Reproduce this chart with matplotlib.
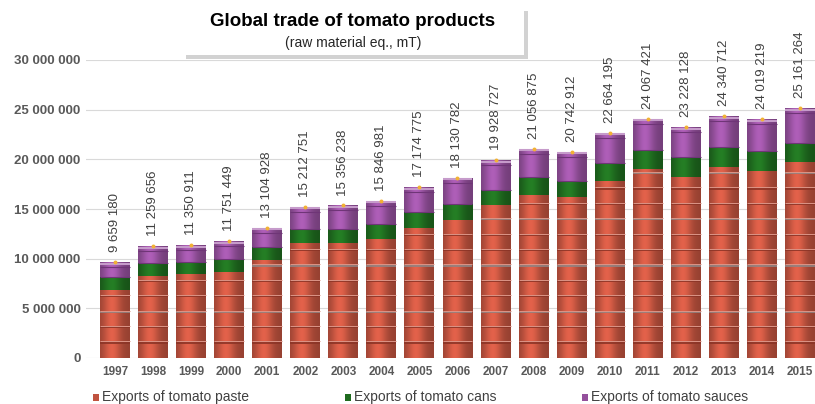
import numpy as np
import matplotlib
matplotlib.use('Agg')
from matplotlib import pyplot as plt
from matplotlib.patches import Rectangle

plt.rcParams['font.family'] = ['Liberation Sans', 'DejaVu Sans']

# data (tonnes, raw material eq.)
years = ['1997', '1998', '1999', '2000', '2001', '2002', '2003', '2004', '2005', '2006',
         '2007', '2008', '2009', '2010', '2011', '2012', '2013', '2014', '2015']
totals = [9659180, 11259656, 11350911, 11751449, 13104928, 15212751, 15356238, 15846981,
          17174775, 18130782, 19928727, 21056875, 20742912, 22664195, 24067421, 23228128,
          24340712, 24019219, 25161264]
paste = [6.85e6, 8.26e6, 8.46e6, 8.63e6, 9.87e6, 11.61e6, 11.61e6, 11.98e6, 13.12e6, 13.9e6,
         15.37e6, 16.41e6, 16.25e6, 17.86e6, 19.0e6, 18.19e6, 19.2e6, 18.83e6, 19.7e6]
cans = [1.34e6, 1.27e6, 1.21e6, 1.31e6, 1.28e6, 1.41e6, 1.41e6, 1.52e6, 1.61e6, 1.57e6,
        1.55e6, 1.77e6, 1.57e6, 1.74e6, 1.95e6, 2.01e6, 2.0e6, 2.02e6, 1.98e6]
sauces = [t - p - c for t, p, c in zip(totals, paste, cans)]

series_names = ['Exports of tomato paste', 'Exports of tomato cans', 'Exports of tomato sauces']
colors = ['#c0533f', '#1f6b1f', '#94509c']

W, H = 815, 404
fig = plt.figure(figsize=(W / 100, H / 100), dpi=100)
ax = fig.add_axes([86 / W, 46 / H, (W - 86) / W, (358 - 60) / H])

x = np.arange(len(years))
bw = 30 / 38.06


def shade(patch, base):
    # cylinder look: horizontal gradient clipped to the bar
    b = np.array(matplotlib.colors.to_rgb(base))
    t = np.linspace(0, 1, 60)
    f = 0.78 + 0.4 * np.exp(-((t - 0.4) / 0.3) ** 2)
    img = np.clip(b[None, :] * f[:, None], 0, 1)[None, :, :]
    bx, by = patch.get_x(), patch.get_y()
    im = ax.imshow(img, extent=[bx, bx + patch.get_width(), by, by + patch.get_height()],
                   aspect='auto', zorder=2, interpolation='bilinear')
    im.set_clip_path(patch)


bottoms = np.zeros(len(years))
for vals, col in zip([paste, cans, sauces], colors):
    bars = ax.bar(x, vals, bw, bottom=bottoms, color=col, zorder=2, linewidth=0)
    for p in bars:
        shade(p, col)
    bottoms = bottoms + np.array(vals)

# barrel hoops on the paste section
step = 1.55e6
for i in range(len(years)):
    k = 1
    while k * step < paste[i] - 0.3e6:
        yv = k * step
        lc = '#8f8584' if k % 3 == 0 else '#8a3325'
        ax.plot([i - bw / 2, i + bw / 2], [yv, yv], color=lc, lw=1.2, zorder=3,
                solid_capstyle='butt')
        ax.plot([i - bw / 2, i + bw / 2], [yv + 0.12e6, yv + 0.12e6], color='#dc9486',
                lw=0.7, zorder=3, solid_capstyle='butt')
        k += 1
    # lid rim
    ax.plot([i - bw / 2, i + bw / 2], [totals[i] - 0.15e6] * 2, color='#c69bcb', lw=1.5,
            zorder=3, solid_capstyle='butt')
    ax.plot([i - bw / 2, i + bw / 2], [totals[i] - 0.5e6] * 2, color='#6f3577', lw=0.8,
            zorder=3, solid_capstyle='butt')
    ax.plot([i - bw / 2, i + bw / 2], [paste[i] + cans[i]] * 2, color='#6f3577', lw=0.8,
            zorder=3, solid_capstyle='butt')

ax.scatter(x, totals, s=8, color='#f2b134', zorder=4, linewidths=0)

for i, t in enumerate(totals):
    ax.text(i, t + 1.0e6, f'{t:,}'.replace(',', ' '), rotation=90, ha='center', va='bottom',
            fontsize=9.5, color='#404040', clip_on=False)

ax.set_xlim(-29 / 38.06, 18 + 15 / 38.06)
ax.set_ylim(0, 30e6)
ax.set_yticks(np.arange(0, 30e6 + 1, 5e6))
ax.set_yticklabels([f'{int(v):,}'.replace(',', ' ') for v in np.arange(0, 30e6 + 1, 5e6)],
                   fontsize=9.5, fontweight='bold', color='#595959')
ax.set_xticks(x)
ax.set_xticklabels(years, fontsize=8.5, fontweight='bold', color='#595959')
ax.tick_params(axis='y', length=0, pad=4)
ax.tick_params(axis='x', length=0, pad=6)
ax.grid(axis='y', color='#d9d9d9', lw=0.8, zorder=0)
for s in ax.spines.values():
    s.set_visible(False)

# legend
leg_x = [93, 345, 582]
for lx, name, col in zip(leg_x, series_names, colors):
    fig.patches.append(Rectangle((lx / W, 1 - 401 / H), 6 / W, 7 / H, transform=fig.transFigure,
                                 facecolor=col, edgecolor='none'))
    fig.text((lx + 9) / W, 1 - 397 / H, name, fontsize=10, color='#404040', va='center')

# title box with shadow
fig.patches.append(Rectangle((186 / W, 1 - 59 / H), 342 / W, 48 / H, transform=fig.transFigure,
                             facecolor='#a6a6a6', edgecolor='none', alpha=0.5))
fig.patches.append(Rectangle((182 / W, 1 - 55 / H), 342 / W, 48 / H, transform=fig.transFigure,
                             facecolor='white', edgecolor='none'))
fig.text(353 / W, 1 - 21 / H, 'Global trade of tomato products', fontsize=13.5,
         fontweight='bold', ha='center', va='center', color='black')
fig.text(353 / W, 1 - 43 / H, '(raw material eq., mT)', fontsize=10, ha='center',
         va='center', color='#262626')

fig.savefig('out.png', dpi=100)
